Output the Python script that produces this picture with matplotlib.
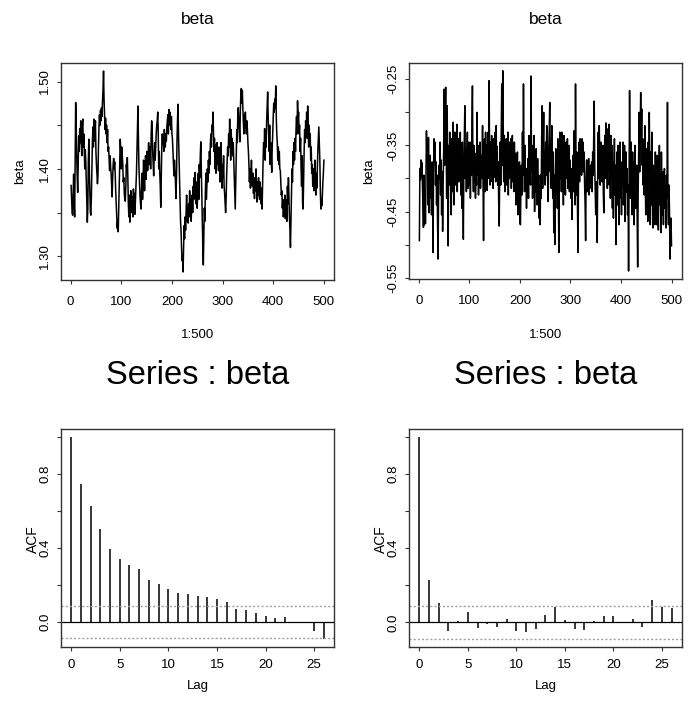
import numpy as np
import matplotlib
matplotlib.use("Agg")
import matplotlib.pyplot as plt

plt.rcParams['font.family'] = ['Liberation Sans', 'DejaVu Sans']

# ---------------- data ----------------
beta_chain1 = [
    1.381, 1.365, 1.350, 1.347, 1.372, 1.394, 1.362, 1.345, 1.410, 1.476,
    1.452, 1.418, 1.392, 1.373, 1.405, 1.438, 1.420, 1.446, 1.430, 1.455,
    1.432, 1.415, 1.448, 1.457, 1.425, 1.440, 1.418, 1.400, 1.422, 1.408,
    1.385, 1.360, 1.339, 1.355, 1.410, 1.434, 1.398, 1.372, 1.350, 1.347,
    1.368, 1.402, 1.430, 1.448, 1.425, 1.457, 1.432, 1.440, 1.455, 1.420,
    1.405, 1.395, 1.383, 1.392, 1.425, 1.448, 1.462, 1.450, 1.467, 1.455,
    1.470, 1.460, 1.478, 1.490, 1.512, 1.480, 1.462, 1.445, 1.458, 1.440,
    1.450, 1.430, 1.445, 1.420, 1.425, 1.410, 1.398, 1.415, 1.402, 1.395,
    1.380, 1.368, 1.390, 1.405, 1.412, 1.400, 1.408, 1.395, 1.375, 1.360,
    1.345, 1.332, 1.340, 1.328, 1.355, 1.380, 1.410, 1.434, 1.420, 1.400,
    1.425, 1.415, 1.405, 1.385, 1.390, 1.372, 1.365, 1.363, 1.380, 1.405,
    1.398, 1.413, 1.390, 1.360, 1.345, 1.370, 1.339, 1.352, 1.375, 1.360,
    1.350, 1.368, 1.345, 1.377, 1.360, 1.372, 1.348, 1.365, 1.380, 1.395,
    1.420, 1.445, 1.472, 1.430, 1.400, 1.385, 1.370, 1.360, 1.354, 1.375,
    1.395, 1.365, 1.382, 1.410, 1.392, 1.375, 1.400, 1.415, 1.388, 1.405,
    1.420, 1.398, 1.412, 1.430, 1.405, 1.418, 1.425, 1.400, 1.440, 1.455,
    1.446, 1.420, 1.405, 1.392, 1.415, 1.430, 1.410, 1.425, 1.440, 1.450,
    1.455, 1.465, 1.440, 1.400, 1.420, 1.395, 1.380, 1.356, 1.390, 1.425,
    1.440, 1.428, 1.435, 1.420, 1.445, 1.430, 1.425, 1.440, 1.432, 1.448,
    1.455, 1.462, 1.440, 1.468, 1.450, 1.465, 1.458, 1.445, 1.460, 1.440,
    1.435, 1.420, 1.405, 1.392, 1.410, 1.398, 1.385, 1.366, 1.390, 1.430,
    1.455, 1.474, 1.440, 1.415, 1.385, 1.360, 1.340, 1.330, 1.310, 1.295,
    1.300, 1.282, 1.310, 1.335, 1.320, 1.345, 1.330, 1.352, 1.370, 1.340,
    1.355, 1.338, 1.360, 1.345, 1.375, 1.350, 1.365, 1.340, 1.358, 1.370,
    1.350, 1.380, 1.365, 1.390, 1.372, 1.396, 1.360, 1.385, 1.375, 1.355,
    1.380, 1.395, 1.365, 1.405, 1.390, 1.415, 1.431, 1.400, 1.370, 1.340,
    1.310, 1.290, 1.320, 1.355, 1.340, 1.372, 1.395, 1.365, 1.380, 1.400,
    1.385, 1.410, 1.395, 1.420, 1.405, 1.430, 1.440, 1.425, 1.450, 1.445,
    1.465, 1.440, 1.420, 1.435, 1.400, 1.428, 1.395, 1.415, 1.430, 1.405,
    1.420, 1.398, 1.425, 1.410, 1.385, 1.420, 1.430, 1.395, 1.378, 1.405,
    1.390, 1.415, 1.380, 1.372, 1.360, 1.350, 1.365, 1.392, 1.410, 1.425,
    1.415, 1.440, 1.425, 1.457, 1.430, 1.410, 1.445, 1.420, 1.435, 1.415,
    1.430, 1.410, 1.392, 1.370, 1.354, 1.385, 1.420, 1.445, 1.430, 1.460,
    1.470, 1.455, 1.445, 1.431, 1.465, 1.485, 1.492, 1.475, 1.490, 1.470,
    1.455, 1.440, 1.462, 1.448, 1.465, 1.450, 1.440, 1.455, 1.445, 1.430,
    1.420, 1.405, 1.385, 1.400, 1.378, 1.395, 1.410, 1.388, 1.380, 1.395,
    1.372, 1.385, 1.366, 1.390, 1.375, 1.400, 1.380, 1.362, 1.385, 1.370,
    1.390, 1.375, 1.365, 1.385, 1.372, 1.360, 1.378, 1.354, 1.385, 1.410,
    1.430, 1.420, 1.446, 1.410, 1.435, 1.425, 1.455, 1.470, 1.488, 1.460,
    1.440, 1.420, 1.450, 1.405, 1.430, 1.415, 1.396, 1.425, 1.440, 1.460,
    1.475, 1.465, 1.480, 1.470, 1.495, 1.460, 1.440, 1.430, 1.410, 1.425,
    1.405, 1.420, 1.400, 1.398, 1.385, 1.370, 1.375, 1.355, 1.365, 1.345,
    1.360, 1.350, 1.370, 1.343, 1.365, 1.355, 1.340, 1.380, 1.360, 1.390,
    1.365, 1.345, 1.330, 1.310, 1.340, 1.375, 1.400, 1.385, 1.420, 1.405,
    1.430, 1.410, 1.435, 1.420, 1.445, 1.460, 1.440, 1.478, 1.455, 1.465,
    1.440, 1.450, 1.420, 1.435, 1.400, 1.380, 1.415, 1.360, 1.354, 1.390,
    1.420, 1.445, 1.430, 1.455, 1.440, 1.465, 1.435, 1.472, 1.445, 1.425,
    1.450, 1.430, 1.440, 1.410, 1.425, 1.395, 1.405, 1.380, 1.400, 1.375,
    1.390, 1.410, 1.385, 1.370, 1.395, 1.378, 1.400, 1.420, 1.435, 1.448,
    1.430, 1.410, 1.375, 1.354, 1.365, 1.358, 1.370, 1.385, 1.395, 1.410,
]

beta_chain2 = [
    -0.494, -0.385, -0.402, -0.372, -0.398, -0.376, -0.405, -0.440, -0.474, -0.395,
    -0.470, -0.420, -0.468, -0.390, -0.328, -0.372, -0.345, -0.440, -0.338, -0.452,
    -0.410, -0.365, -0.430, -0.400, -0.455, -0.375, -0.420, -0.512, -0.390, -0.340,
    -0.360, -0.345, -0.410, -0.375, -0.440, -0.395, -0.470, -0.522, -0.420, -0.380,
    -0.400, -0.345, -0.425, -0.372, -0.455, -0.390, -0.480, -0.410, -0.360, -0.265,
    -0.380, -0.310, -0.262, -0.345, -0.430, -0.290, -0.395, -0.502, -0.350, -0.410,
    -0.330, -0.405, -0.360, -0.455, -0.340, -0.420, -0.385, -0.315, -0.440, -0.370,
    -0.330, -0.410, -0.352, -0.395, -0.318, -0.420, -0.362, -0.340, -0.405, -0.355,
    -0.395, -0.330, -0.425, -0.372, -0.445, -0.345, -0.410, -0.492, -0.380, -0.335,
    -0.290, -0.400, -0.355, -0.420, -0.365, -0.330, -0.415, -0.380, -0.345, -0.410,
    -0.372, -0.430, -0.345, -0.395, -0.318, -0.260, -0.385, -0.420, -0.350, -0.405,
    -0.362, -0.430, -0.380, -0.410, -0.300, -0.395, -0.350, -0.425, -0.370, -0.400,
    -0.345, -0.415, -0.365, -0.400, -0.380, -0.320, -0.410, -0.494, -0.375, -0.340,
    -0.420, -0.330, -0.395, -0.350, -0.418, -0.365, -0.330, -0.400, -0.252, -0.375,
    -0.410, -0.345, -0.390, -0.335, -0.405, -0.362, -0.415, -0.340, -0.398, -0.370,
    -0.330, -0.405, -0.320, -0.390, -0.352, -0.410, -0.375, -0.440, -0.472, -0.385,
    -0.345, -0.410, -0.330, -0.257, -0.380, -0.237, -0.360, -0.405, -0.335, -0.420,
    -0.355, -0.395, -0.340, -0.410, -0.372, -0.330, -0.425, -0.365, -0.400, -0.345,
    -0.390, -0.340, -0.415, -0.360, -0.335, -0.405, -0.375, -0.420, -0.345, -0.395,
    -0.362, -0.440, -0.385, -0.415, -0.360, -0.455, -0.398, -0.430, -0.375, -0.466,
    -0.470, -0.410, -0.380, -0.425, -0.330, -0.395, -0.257, -0.365, -0.420, -0.350,
    -0.415, -0.385, -0.445, -0.390, -0.420, -0.370, -0.430, -0.335, -0.400, -0.375,
    -0.410, -0.245, -0.390, -0.350, -0.430, -0.365, -0.410, -0.335, -0.450, -0.380,
    -0.420, -0.355, -0.405, -0.440, -0.370, -0.425, -0.395, -0.460, -0.410, -0.470,
    -0.395, -0.430, -0.340, -0.290, -0.415, -0.350, -0.300, -0.390, -0.360, -0.410,
    -0.345, -0.395, -0.320, -0.380, -0.410, -0.435, -0.355, -0.330, -0.285, -0.390,
    -0.340, -0.415, -0.320, -0.385, -0.430, -0.360, -0.482, -0.395, -0.500, -0.405,
    -0.355, -0.420, -0.370, -0.445, -0.340, -0.410, -0.512, -0.375, -0.330, -0.400,
    -0.345, -0.420, -0.330, -0.395, -0.360, -0.440, -0.335, -0.410, -0.370, -0.425,
    -0.345, -0.400, -0.365, -0.340, -0.415, -0.380, -0.350, -0.420, -0.372, -0.395,
    -0.430, -0.385, -0.462, -0.400, -0.365, -0.420, -0.328, -0.395, -0.440, -0.257,
    -0.380, -0.425, -0.360, -0.450, -0.512, -0.390, -0.345, -0.405, -0.340, -0.375,
    -0.350, -0.395, -0.340, -0.380, -0.345, -0.390, -0.360, -0.410, -0.440, -0.494,
    -0.400, -0.372, -0.420, -0.385, -0.410, -0.370, -0.425, -0.390, -0.405, -0.380,
    -0.415, -0.375, -0.420, -0.360, -0.395, -0.340, -0.283, -0.380, -0.420, -0.455,
    -0.405, -0.440, -0.497, -0.385, -0.330, -0.400, -0.320, -0.375, -0.410, -0.345,
    -0.390, -0.365, -0.405, -0.350, -0.420, -0.452, -0.380, -0.335, -0.400, -0.316,
    -0.395, -0.340, -0.415, -0.325, -0.385, -0.318, -0.410, -0.360, -0.430, -0.335,
    -0.400, -0.350, -0.445, -0.375, -0.460, -0.390, -0.340, -0.425, -0.380, -0.500,
    -0.410, -0.360, -0.440, -0.350, -0.420, -0.470, -0.385, -0.345, -0.430, -0.395,
    -0.455, -0.375, -0.410, -0.345, -0.440, -0.390, -0.350, -0.465, -0.400, -0.360,
    -0.420, -0.385, -0.455, -0.410, -0.540, -0.395, -0.267, -0.380, -0.430, -0.345,
    -0.400, -0.455, -0.360, -0.420, -0.375, -0.470, -0.390, -0.350, -0.445, -0.410,
    -0.380, -0.450, -0.534, -0.420, -0.365, -0.300, -0.390, -0.325, -0.270, -0.345,
    -0.295, -0.380, -0.340, -0.410, -0.360, -0.425, -0.320, -0.400, -0.455, -0.355,
    -0.430, -0.380, -0.465, -0.345, -0.410, -0.300, -0.395, -0.470, -0.360, -0.440,
    -0.330, -0.410, -0.475, -0.380, -0.435, -0.395, -0.470, -0.360, -0.425, -0.400,
    -0.470, -0.365, -0.420, -0.478, -0.385, -0.350, -0.440, -0.395, -0.482, -0.360,
    -0.415, -0.455, -0.390, -0.470, -0.405, -0.385, -0.445, -0.410, -0.475, -0.395,
    -0.430, -0.285, -0.440, -0.470, -0.410, -0.450, -0.522, -0.480, -0.460, -0.502,
]

acf_lags = list(range(27))
acf_chain1 = [1.000, 0.748, 0.625, 0.503, 0.396, 0.341, 0.308, 0.285, 0.227,
              0.204, 0.178, 0.155, 0.153, 0.141, 0.133, 0.124, 0.108, 0.070,
              0.063, 0.050, 0.031, 0.023, 0.029, 0.002, -0.004, -0.049, -0.090]
acf_chain2 = [1.000, 0.229, 0.105, -0.045, 0.007, 0.054, -0.029, -0.011, -0.027,
              0.018, -0.045, -0.050, -0.036, 0.040, 0.083, 0.014, -0.036, -0.043,
              0.006, 0.034, 0.033, 0.000, 0.018, -0.025, 0.121, 0.083, 0.076]

n_iter = 500
conf_limit = 1.96 / np.sqrt(n_iter)

trace_xticks = [0, 100, 200, 300, 400, 500]
tl_yticks = [1.30, 1.35, 1.40, 1.45, 1.50]
tl_ylabels = ['1.30', '', '1.40', '', '1.50']
tr_yticks = [-0.55, -0.50, -0.45, -0.40, -0.35, -0.30, -0.25]
tr_ylabels = ['-0.55', '', '-0.45', '', '-0.35', '', '-0.25']
acf_xticks = [0, 5, 10, 15, 20, 25]
acf_yticks = [0.0, 0.2, 0.4, 0.6, 0.8, 1.0]
acf_ylabels = ['0.0', '', '0.4', '', '0.8', '']

# ---------------- figure ----------------
W, H = 691, 701
fig = plt.figure(figsize=(W / 100, H / 100), dpi=100)


def box(l, t, r, b):
    return [l / W, 1 - b / H, (r - l) / W, (b - t) / H]


def ftext(x, y, s, **kw):
    fig.text(x / W, 1 - y / H, s, ha='center', va='center', **kw)


ax_tl = fig.add_axes(box(61, 63, 334, 280))
ax_tr = fig.add_axes(box(409.3, 62.7, 681.6, 279))
ax_bl = fig.add_axes(box(61, 429, 334, 646.7))
ax_br = fig.add_axes(box(409.3, 429, 681.6, 646.7))

TICK = 9.5


def style(ax, xpad, ypad):
    for sp in ax.spines.values():
        sp.set_color('#333333')
        sp.set_linewidth(1.0)
    ax.tick_params(direction='out', length=3, width=0.8, color='#333333',
                   labelsize=TICK)
    ax.tick_params(axis='x', pad=xpad)
    ax.tick_params(axis='y', pad=ypad)
    for lab in ax.get_yticklabels():
        lab.set_rotation(90)
        lab.set_va('center')
        lab.set_ha('right')


def r_limits(vals, frac=0.04):
    lo, hi = min(vals), max(vals)
    d = (hi - lo) * frac
    return lo - d, hi + d


# trace plots
for ax, chain, yt, yl in [(ax_tl, beta_chain1, tl_yticks, tl_ylabels),
                          (ax_tr, beta_chain2, tr_yticks, tr_ylabels)]:
    x = np.arange(1, len(chain) + 1)
    ax.plot(x, chain, color='black', lw=1.1)
    ax.set_xlim(*r_limits(x))
    ax.set_ylim(*r_limits(chain))
    ax.set_xticks(trace_xticks)
    ax.set_xticklabels([str(v) for v in trace_xticks])
    ax.set_yticks(yt)
    ax.set_yticklabels(yl)
    style(ax, 8.5, 4.0)

# ACF plots
for ax, acf in [(ax_bl, acf_chain1), (ax_br, acf_chain2)]:
    ax.vlines(acf_lags, 0, acf, color='black', lw=1.1)
    ax.axhline(0, color='black', lw=0.9)
    for c in (conf_limit, -conf_limit):
        ax.axhline(c, color='#a0a0a0', lw=1.0, ls=(0, (1.5, 1.5)))
    ax.set_xlim(*r_limits(acf_lags))
    ax.set_ylim(*r_limits(list(acf) + [conf_limit, -conf_limit]))
    ax.set_xticks(acf_xticks)
    ax.set_xticklabels([str(v) for v in acf_xticks])
    ax.set_yticks(acf_yticks)
    ax.set_yticklabels(acf_ylabels)
    style(ax, 5.5, 4.0)

# texts
for cx, lx in [(197.5, 20), (545.5, 369)]:
    ftext(cx, 20, 'beta', fontsize=12.5)
    ftext(cx, 335, '1:500', fontsize=TICK)
    ftext(lx, 171, 'beta', fontsize=TICK, rotation=90)
for cx, lx in [(197.5, 33), (545.5, 381)]:
    ftext(cx, 375, 'Series : beta', fontsize=23.5)
    ftext(cx, 686, 'Lag', fontsize=TICK)
    ftext(lx, 539, 'ACF', fontsize=10, rotation=90)

fig.savefig('out.png', dpi=100)
